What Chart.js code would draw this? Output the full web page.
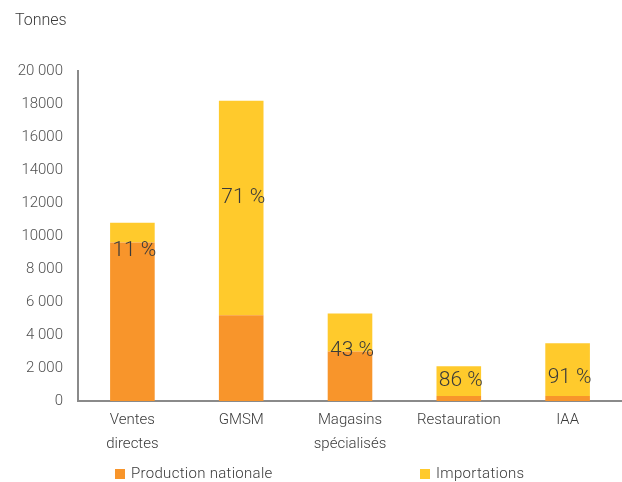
<!DOCTYPE html>
<html>
<head>
    <meta charset="UTF-8">
    <title>Tonnes par circuit</title>
    <script src="https://cdn.jsdelivr.net/npm/chart.js"></script>
    <style>
        body { margin: 0; background: #fff; }
        #wrap { position: relative; width: 622px; height: 482px; }
        .leg { position: absolute; top: 464px; font: 300 15px Roboto, sans-serif; color: #3a3a3a; white-space: nowrap; letter-spacing: 0.3px; }
        .leg span { display: inline-block; width: 10px; height: 10px; margin-right: 6px; vertical-align: -1px; }
    </style>
</head>
<body>

<div id="wrap">
    <canvas id="chart" width="622" height="482"></canvas>
    <div class="leg" style="left:115px"><span style="background:#F8952B"></span>Production nationale</div>
    <div class="leg" style="left:420px"><span style="background:#FFCA2C"></span>Importations</div>
</div>

<script>
    // données
    var categories = [['Ventes', 'directes'], 'GMSM', ['Magasins', 'spécialisés'], 'Restauration', 'IAA'];
    var production = [9600, 5200, 3000, 300, 300];
    var importations = [1200, 13000, 2300, 1800, 3200];
    var pctLabels = ['11 %', '71 %', '43 %', '86 %', '91 %'];
    var yTickLabels = ['0', '2 000', '4 000', '6 000', '8 000', '10000', '12000', '14000', '16000', '18000', '20 000'];

    // décalage vertical (px) des étiquettes de pourcentage
    var labelShift = [18, -10, 18, 0, 8];

    var FONT = 'Roboto, sans-serif';

    var pctPlugin = {
        id: 'pctPlugin',
        afterDatasetsDraw: function (chart) {
            var ctx = chart.ctx;
            var y = chart.scales.y;
            var meta = chart.getDatasetMeta(1);
            ctx.save();
            ctx.font = '300 21px ' + FONT;
            ctx.fillStyle = '#3a3a3a';
            ctx.textAlign = 'center';
            ctx.textBaseline = 'middle';
            meta.data.forEach(function (bar, i) {
                var mid = (y.getPixelForValue(production[i]) + y.getPixelForValue(production[i] + importations[i])) / 2;
                ctx.fillText(pctLabels[i], bar.x + 2, mid + labelShift[i]);
            });
            // titre de l'axe
            ctx.font = '300 16px ' + FONT;
            ctx.fillStyle = '#3a3a3a';
            ctx.textAlign = 'left';
            ctx.fillText('Tonnes', 15, 21);
            ctx.restore();
        }
    };

    var ctx = document.getElementById('chart').getContext('2d');

    var chart = new Chart(ctx, {
        type: 'bar',
        data: {
            labels: categories,
            datasets: [{
                label: 'Production nationale',
                data: production,
                backgroundColor: '#F8952B',
                categoryPercentage: 1,
                barPercentage: 0.41
            }, {
                label: 'Importations',
                data: importations,
                backgroundColor: '#FFCA2C',
                categoryPercentage: 1,
                barPercentage: 0.41
            }]
        },
        options: {
            responsive: false,
            animation: false,
            layout: { padding: { top: 71, right: 0, left: 0, bottom: 0 } },
            plugins: {
                legend: { display: false },
                tooltip: { enabled: false }
            },
            scales: {
                x: {
                    stacked: true,
                    grid: { display: false, drawTicks: false },
                    border: { display: true, color: '#8a8a8a', width: 2 },
                    ticks: {
                        color: '#3a3a3a',
                        font: { family: FONT, size: 15, weight: 300, lineHeight: 1.6 },
                        padding: 7,
                        maxRotation: 0,
                        autoSkip: false
                    },
                    afterFit: function (s) { s.height = 81; }
                },
                y: {
                    stacked: true,
                    min: 0,
                    max: 20000,
                    grid: { display: false, drawTicks: false },
                    border: { display: true, color: '#8a8a8a', width: 2 },
                    ticks: {
                        stepSize: 2000,
                        color: '#505050',
                        font: { family: FONT, size: 15, weight: 300 },
                        padding: 15,
                        callback: function (v, i) { return yTickLabels[i]; }
                    },
                    afterFit: function (s) { s.width = 78; }
                }
            }
        },
        plugins: [pctPlugin]
    });
</script>

</body>
</html>
